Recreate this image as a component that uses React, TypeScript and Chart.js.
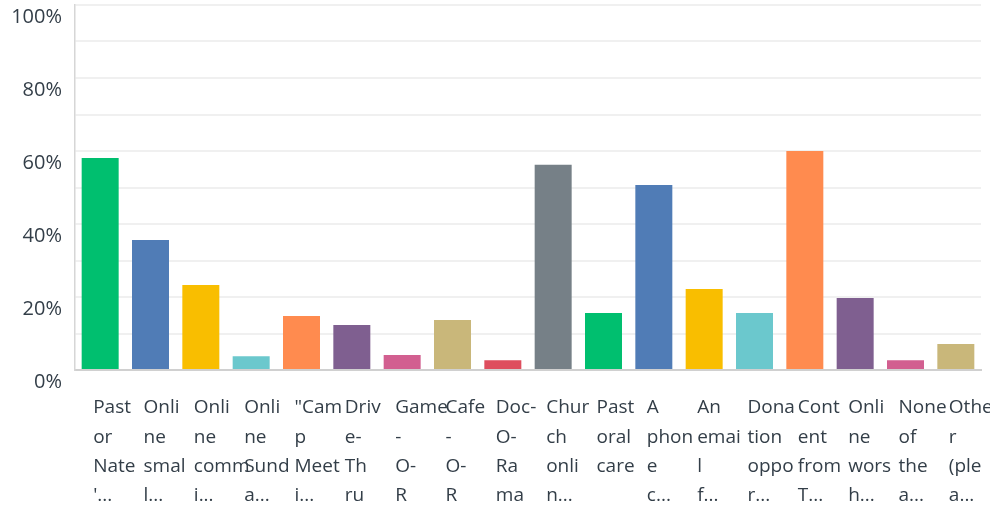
import React, { useEffect, useRef } from "react";
import { Chart, registerables } from "chart.js";

Chart.register(...registerables);

const categories: string[][] = [
  ["Past", "or", "Nate", "'..."],
  ["Onli", "ne", "smal", "l..."],
  ["Onli", "ne", "comm", "i..."],
  ["Onli", "ne", "Sund", "a..."],
  ["\"Cam", "p", "Meet", "i..."],
  ["Driv", "e-", "Th", "ru"],
  ["Game", "-", "O-", "R"],
  ["Cafe", "-", "O-", "R"],
  ["Doc-", "O-", "Ra", "ma"],
  ["Chur", "ch", "onli", "n..."],
  ["Past", "oral", "care"],
  ["A", "phon", "e", "c..."],
  ["An", "emai", "l", "f..."],
  ["Dona", "tion", "oppo", "r..."],
  ["Cont", "ent", "from", "T..."],
  ["Onli", "ne", "wors", "h..."],
  ["None", "of", "the", "a..."],
  ["Othe", "r", "(ple", "a..."],
];

const values: number[] = [
  58.1, 35.6, 23.3, 3.8, 14.8, 12.3, 4.1, 13.7, 2.7, 56.2, 15.6, 50.7, 22.2,
  15.6, 60.0, 19.7, 2.7, 7.1,
];

const barColors: string[] = [
  "#00BF6F", "#507CB6", "#F9BE00", "#6BC8CD", "#FF8B4F", "#7F5F90",
  "#D25F90", "#C9B77A", "#DE4E5E", "#768087", "#00BF6F", "#507CB6",
  "#F9BE00", "#6BC8CD", "#FF8B4F", "#7F5F90", "#D25F90", "#C9B77A",
];

const yTickValues: number[] = [0, 20, 40, 60, 80, 100];

export default function App() {
  const ref = useRef<HTMLCanvasElement | null>(null);

  useEffect(() => {
    if (!ref.current) return;
    const chart = new Chart(ref.current, {
      type: "bar",
      data: {
        labels: categories,
        datasets: [
          {
            data: values,
            backgroundColor: barColors,
            borderWidth: 0,
            categoryPercentage: 1,
            barPercentage: 0.735,
          },
        ],
      },
      options: {
        animation: false,
        responsive: false,
        layout: { padding: { top: 5, right: 9, left: 0, bottom: 0 } },
        plugins: {
          legend: { display: false },
          tooltip: { enabled: false },
        },
        scales: {
          x: {
            grid: { display: false, drawTicks: false },
            border: { display: true, color: "#d0d0d0", width: 2 },
            ticks: {
              autoSkip: false,
              maxRotation: 0,
              minRotation: 0,
              align: "start",
              labelOffset: -7,
              padding: 23,
              color: "#333e48",
              font: { family: "'Open Sans', sans-serif", size: 19, lineHeight: 1.55 },
            },
            afterFit: (scale: any) => {
              scale.height = 138;
              scale.paddingLeft = 0;
              scale.paddingRight = 0;
            },
          },
          y: {
            min: 0,
            max: 100,
            grid: { color: "#f0f0f0", lineWidth: 2, drawTicks: false },
            border: { display: true, color: "#d6d6d6", width: 1.5 },
            ticks: {
              stepSize: 10,
              padding: 13,
              labelOffset: 12,
              color: "#333e48",
              font: { family: "'Open Sans', sans-serif", size: 20 },
              callback: (v: any) => (yTickValues.includes(Number(v)) ? v + "%" : ""),
            },
            afterFit: (scale: any) => {
              scale.width = 75;
              scale.paddingTop = 0;
              scale.paddingBottom = 0;
            },
          },
        },
      },
    });
    return () => chart.destroy();
  }, []);

  return (
    <div style={{ position: "absolute", left: 0, top: 0, width: 990, height: 508, background: "#fff" }}>
      <canvas ref={ref} width={990} height={508} style={{ display: "block" }} />
    </div>
  );
}
